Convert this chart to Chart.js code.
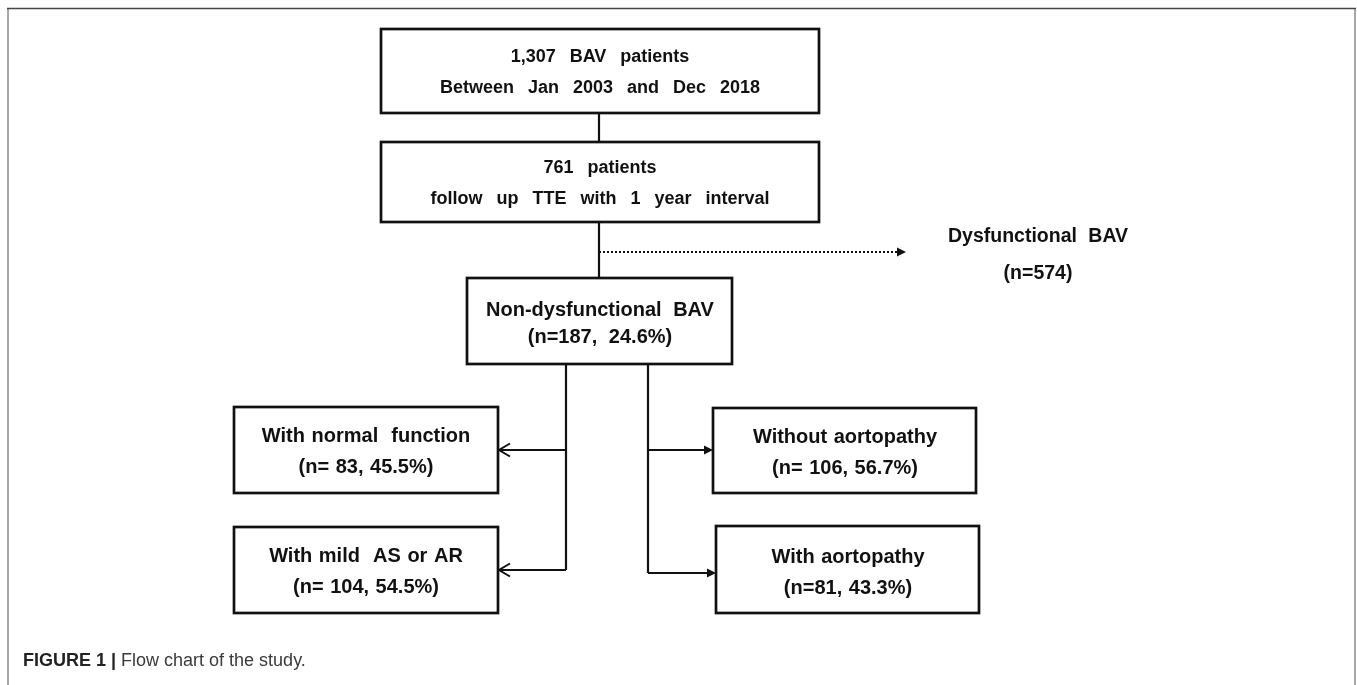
<!DOCTYPE html>
<html>
<head>
<meta charset="utf-8">
<script src="https://cdn.jsdelivr.net/npm/chart.js@4.4.0/dist/chart.umd.min.js"></script>
<style>
  html, body { margin: 0; padding: 0; background: #fff; }
  #wrap { position: relative; width: 1357px; height: 685px; }
</style>
</head>
<body>
<div id="wrap"><canvas id="flowChart" width="1357" height="685"></canvas></div>
<script>
// node texts and numbers of the flow chart
const nodeTitles = [
  "1,307 BAV patients",
  "761 patients",
  "Non-dysfunctional BAV",
  "Dysfunctional BAV",
  "With normal  function",
  "With mild  AS or AR",
  "Without aortopathy",
  "With aortopathy",
];
const nodeCounts = [1307, 761, 187, 574, 83, 104, 106, 81];
const nodePercents = [null, null, 24.6, null, 45.5, 54.5, 56.7, 43.3];
const nodeSubtitles = [
  "Between Jan 2003 and Dec 2018",
  "follow up TTE with 1 year interval",
];
const captionBold = "FIGURE 1 |";
const captionText = " Flow chart of the study.";

// layout: box rectangles [left, top, right, bottom], in chart units
const boxLayout = [
  [381, 29, 819, 113],
  [381, 142, 819, 222],
  [467, 278, 732, 364],
  null, // no box for the dysfunctional branch
  [234, 407, 498, 493],
  [234, 527, 498, 613],
  [713, 408, 976, 493],
  [716, 526, 979, 613],
];
// text line positions [centerX, line1Y, line2Y, fontSize, wordSpacing]
const textLayout = [
  [600, 57, 88, 18, 9],
  [600, 168, 199, 18, 9],
  [600, 310, 337, 20, 6],
  [1038, 237, 274, 19.5, 6],
  [366, 436, 467, 20, 1],
  [366, 556, 587, 20, 1],
  [845, 437, 468, 20, 1],
  [848, 557, 588, 20, 1],
];

function secondLine(i) {
  if (i < 2) return nodeSubtitles[i];
  if (nodePercents[i] === null) return "(n=" + nodeCounts[i] + ")";
  if (i === 2 || i === 7) return "(n=" + nodeCounts[i] + ", " + nodePercents[i] + "%)";
  return "(n= " + nodeCounts[i] + ", " + nodePercents[i] + "%)";
}

// connector lines, as line datasets
const connectors = [
  { pts: [[599, 113], [599, 142]] },
  { pts: [[599, 222], [599, 278]] },
  { pts: [[599, 252], [898, 252]], dash: [2, 2] },
  { pts: [[566, 364], [566, 570]] },
  { pts: [[566, 450], [500, 450]] },
  { pts: [[566, 570], [500, 570]] },
  { pts: [[648, 364], [648, 573]] },
  { pts: [[648, 450], [706, 450]] },
  { pts: [[648, 573], [709, 573]] },
];
// arrow heads: [x, y, direction, open]
const arrowHeads = [
  [906, 252, 1, false],
  [499, 450, -1, true],
  [499, 570, -1, true],
  [713, 450, 1, false],
  [716, 573, 1, false],
];

const boxPlugin = {
  id: "boxes",
  afterDatasetsDraw(chart) {
    const ctx = chart.ctx;
    const xs = chart.scales.x;
    const ys = chart.scales.y;
    ctx.save();
    // page frame
    ctx.strokeStyle = "#8a8a8a";
    ctx.lineWidth = 1.5;
    ctx.beginPath();
    ctx.moveTo(xs.getPixelForValue(8), ys.getPixelForValue(685));
    ctx.lineTo(xs.getPixelForValue(8), ys.getPixelForValue(9));
    ctx.moveTo(xs.getPixelForValue(1355), ys.getPixelForValue(9));
    ctx.lineTo(xs.getPixelForValue(1355), ys.getPixelForValue(685));
    ctx.stroke();
    ctx.strokeStyle = "#444";
    ctx.beginPath();
    ctx.moveTo(xs.getPixelForValue(7), ys.getPixelForValue(8.5));
    ctx.lineTo(xs.getPixelForValue(1356), ys.getPixelForValue(8.5));
    ctx.stroke();

    // boxes
    ctx.strokeStyle = "#111";
    ctx.lineWidth = 2.7;
    boxLayout.forEach((b) => {
      if (!b) return;
      const x0 = xs.getPixelForValue(b[0]);
      const y0 = ys.getPixelForValue(b[1]);
      const x1 = xs.getPixelForValue(b[2]);
      const y1 = ys.getPixelForValue(b[3]);
      ctx.fillStyle = "#fff";
      ctx.fillRect(x0, y0, x1 - x0, y1 - y0);
      ctx.strokeRect(x0, y0, x1 - x0, y1 - y0);
    });

    // arrow heads
    arrowHeads.forEach((a) => {
      const x = xs.getPixelForValue(a[0]);
      const y = ys.getPixelForValue(a[1]);
      const d = a[2];
      ctx.beginPath();
      if (a[3]) {
        ctx.lineWidth = 2;
        ctx.moveTo(x - d * 11, y - 6.5);
        ctx.lineTo(x, y);
        ctx.lineTo(x - d * 11, y + 6.5);
        ctx.stroke();
      } else {
        ctx.fillStyle = "#111";
        ctx.moveTo(x, y);
        ctx.lineTo(x - d * 9, y - 4.5);
        ctx.lineTo(x - d * 9, y + 4.5);
        ctx.closePath();
        ctx.fill();
      }
    });

    // texts
    ctx.fillStyle = "#111";
    ctx.textAlign = "center";
    ctx.textBaseline = "middle";
    textLayout.forEach((t, i) => {
      const cx = xs.getPixelForValue(t[0]);
      ctx.font = "bold " + t[3] + "px 'Liberation Sans', Arial, sans-serif";
      ctx.wordSpacing = t[4] + "px";
      ctx.fillText(nodeTitles[i], cx, ys.getPixelForValue(t[1]));
      ctx.fillText(secondLine(i), cx, ys.getPixelForValue(t[2]));
    });
    ctx.wordSpacing = "0px";

    // caption
    ctx.textAlign = "left";
    ctx.fillStyle = "#222";
    ctx.font = "bold 18px 'Liberation Sans', Arial, sans-serif";
    const cy = ys.getPixelForValue(661);
    const cx0 = xs.getPixelForValue(23);
    ctx.fillText(captionBold, cx0, cy);
    const w = ctx.measureText(captionBold).width;
    ctx.fillStyle = "#3a3a3a";
    ctx.font = "18px 'Liberation Sans', Arial, sans-serif";
    ctx.fillText(captionText, cx0 + w, cy);
    ctx.restore();
  },
};

const datasets = connectors.map((c) => ({
  type: "line",
  data: c.pts.map((p) => ({ x: p[0], y: p[1] })),
  borderColor: "#111",
  borderWidth: c.dash ? 2 : 2.2,
  borderDash: c.dash || [],
  pointRadius: 0,
  fill: false,
  tension: 0,
}));

new Chart(document.getElementById("flowChart").getContext("2d"), {
  type: "scatter",
  data: { datasets: datasets },
  options: {
    responsive: false,
    animation: false,
    layout: { padding: 0 },
    scales: {
      x: { type: "linear", min: 0, max: 1357, display: false },
      y: { type: "linear", min: 0, max: 685, reverse: true, display: false },
    },
    plugins: {
      legend: { display: false },
      tooltip: { enabled: false },
    },
  },
  plugins: [boxPlugin],
});
</script>
</body>
</html>
